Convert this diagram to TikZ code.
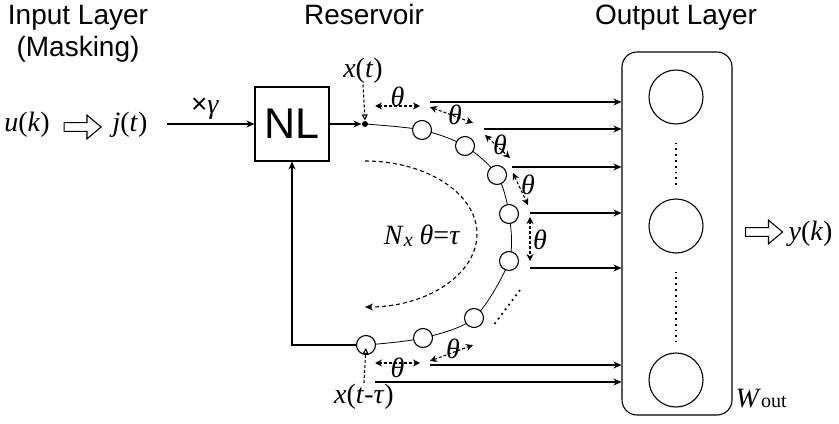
\documentclass[tikz,border=0pt]{standalone}
\usepackage{fontspec}
\setmainfont{Liberation Serif}
\setsansfont{Liberation Sans}
\usetikzlibrary{arrows.meta,positioning,calc,shapes.arrows,backgrounds}
\newcommand{\iv}[1]{\textit{#1}}
\newcommand{\thet}{\textit{θ}}

\begin{document}
\begin{tikzpicture}[x=0.5pt, y=0.5pt, line width=0.55pt,
  heading/.style={font=\fontsize{14}{16}\selectfont\sffamily, inner sep=0},
  lbl/.style={font=\fontsize{14}{16}\selectfont, inner sep=0},
  cell/.style={draw, circle, fill=white, minimum size=9.5pt, inner sep=0},
  neuron/.style={draw, circle, minimum size=27pt, inner sep=0},
  hollow/.style={draw, single arrow, single arrow tip angle=80,
    single arrow head extend=3.75pt, single arrow head indent=0pt,
    inner sep=1.9pt, minimum width=11pt, minimum height=18.5pt},
  arrow/.style={-{Stealth[length=4pt, width=3.5pt]}},
  delay/.style={{Stealth[length=3.5pt, width=3.5pt]}-{Stealth[length=3.5pt, width=3.5pt]},
    dash pattern=on 1.5pt off 1pt},
  probe/.style={-{Triangle[open, length=3pt, width=3pt]}, dash pattern=on 1.5pt off 1pt},
  loopline/.style={-{Stealth[length=4pt, width=3.5pt]}, dash pattern=on 2pt off 1.5pt}
]
  \useasboundingbox (0,0) rectangle (839,423);

  % Titles
  \node[heading, align=center, anchor=north] (intitle) at (78,418) {Input Layer\\(Masking)};
  \node[heading, anchor=base] (restitle) at (364,398) {Reservoir};
  \node[heading, anchor=base] (outtitle) at (676,398) {Output Layer};

  % Input layer
  \node[lbl, anchor=base] (uk) at (27,291) {\iv{u}(\iv{k})};
  \node[hollow] (inarrow) at (80,296) {};
  \node[lbl, anchor=base] (jt) at (130,291) {\iv{j}(\iv{t})};
  \node[draw, minimum size=37pt, inner sep=0,
    font=\fontsize{21.5}{24}\selectfont\sffamily] (nl) at (292,299) {NL};
  \coordinate (jin) at (167,299);
  \draw[arrow] (jin) -- (nl.west);
  \node[lbl, anchor=base] (gain) at (205,309) {{\sffamily ×}\iv{γ}};

  % Reservoir
  \node[circle, fill, inner sep=0, minimum size=3pt] (xt) at (365,299) {};
  \draw[arrow] (nl.east) -- (xt.west);
  \foreach \i/\x/\y in {1/422/293, 2/465/277, 3/497/248, 4/509/209,
                        5/509/162, 6/474/105, 7/423/85, 8/366/78}
    \node[cell] (c\i) at (\x,\y) {};
  \begin{scope}[on background layer]
    \draw plot[smooth] coordinates {(xt) (c1) (c2) (c3) (c4) (c5) (c6) (c7) (c8)};
  \end{scope}
  \draw[arrow] (c8.west) -| (nl.south);
  \draw[dotted, line width=0.9pt] (520,133) -- (493,97);

  \draw[loopline] (365,262) arc[start angle=90, end angle=-90, x radius=112, y radius=73];
  \node[lbl, anchor=base] (looplbl) at (422,178)
    {\iv{N}\raisebox{-1pt}{\fontsize{10}{12}\selectfont\iv{x}} \thet=\iv{τ}};

  \node[lbl, anchor=base] (xtlbl) at (363,345) {\iv{x}(\iv{t})};
  \draw[probe] (xtlbl.south) -- (xt.north);
  \node[lbl, anchor=base] (xtaulbl) at (364,20) {\iv{x}(\iv{t}-\iv{τ})};
  \draw[probe, shorten >=1.5pt] (xtaulbl.north) -- (c8.center);

  % Delay marks
  \foreach \i/\sx/\sy/\ex/\ey/\dx/\dy in {1/375/317/420/317/0/9.5,
      2/430/316/473/300/3.5/0, 3/485/288/510/265/2.5/1.5,
      4/513/250/528/218/7.5/4, 5/530/206/530/162/10/-1,
      6/375/60/420/60/0/-5, 7/430/62/473/78/1.5/4} {
    \coordinate (ds\i) at (\sx,\sy);
    \coordinate (de\i) at (\ex,\ey);
    \draw[delay] (ds\i) -- (de\i);
    \node[lbl] (th\i) at ($(ds\i)!0.5!(de\i)+(\dx,\dy)$) {\thet};
  }

  % Output layer
  \node[draw, rounded corners=7.5pt, minimum width=55pt, minimum height=181.5pt,
    inner sep=0] (outbox) at (677,189.5) {};
  \node[neuron] (o1) at (676,326) {};
  \node[neuron] (o2) at (676,197) {};
  \node[neuron] (o3) at (676,43) {};
  \draw[dotted, line width=0.9pt] ($(o1.south)+(0,-18)$) -- ($(o2.north)+(0,11)$);
  \draw[dotted, line width=0.9pt] ($(o2.south)+(0,-18)$) -- ($(o3.north)+(0,11)$);

  % Readout
  \foreach \i/\x/\y in {1/430/321, 2/484/294, 3/512/256, 4/530/210,
                        5/530/155, 6/430/58, 7/375/41} {
    \coordinate (r\i) at (\x,\y);
    \draw[arrow] (r\i) -- (r\i -| outbox.west);
  }

  \node[hollow] (outarrow) at (761.5,191) {};
  \node[lbl, anchor=base west] (yk) at (788,183) {\iv{y}(\iv{k})};
  \node[lbl, anchor=base west] (wout) at (735,16)
    {{\fontsize{14}{16}\selectfont\iv{W}}{\fontsize{10}{12}\selectfont out}};
\end{tikzpicture}
\end{document}
